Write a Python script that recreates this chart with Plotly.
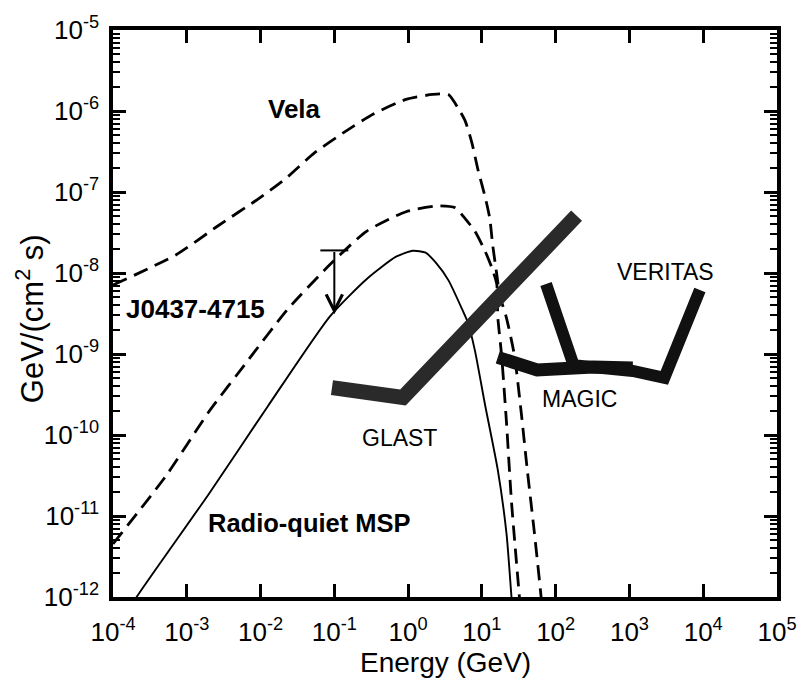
import numpy as np
import plotly.graph_objects as go

# ---------------- data ----------------
vela_E = [1e-4, 7.18e-4, 2.69e-3, 9.23e-3, 0.0212, 0.0533, 0.147, 0.338, 0.935, 2.15, 3.51,
          4.78, 5.93, 7.35, 8.85, 11.0, 12.8, 14.0, 15.9, 17.4, 21.6, 27.6, 34.3, 41.2, 51.2, 63.4, 65.0]
vela_F = [7.1e-9, 1.68e-8, 3.86e-8, 8.18e-8, 1.43e-7, 3.02e-7, 5.73e-7, 9.18e-7, 1.39e-6, 1.60e-6, 1.60e-6,
          1.08e-6, 7.55e-7, 3.99e-7, 1.88e-7, 8.89e-8, 4.70e-8, 2.22e-8, 9.64e-9, 5.38e-9, 2.76e-9, 9.6e-10,
          1.82e-10, 3.73e-11, 6.49e-12, 1.01e-12, 7.5e-13]

j0437_E = [1e-4, 5.27e-4, 1.98e-3, 6.79e-3, 0.0232, 0.0873, 0.273, 0.935, 2.58, 4.36, 5.93, 8.05,
           11.0, 13.6, 15.9, 16.4, 18.5, 21.6, 25.2, 32.2, 33.0]
j0437_F = [4.52e-12, 3.16e-11, 1.92e-10, 8.38e-10, 3.55e-9, 1.27e-8, 3.27e-8, 5.70e-8, 6.75e-8, 6.38e-8,
           4.70e-8, 3.27e-8, 1.88e-8, 1.17e-8, 7.31e-9, 2.92e-9, 9.6e-10, 1.38e-10, 1.49e-11, 1.01e-12, 7.5e-13]

msp_E = [1.9e-4, 2.09e-4, 1.98e-3, 0.01256, 0.0873, 0.273, 0.687, 1.16, 1.73, 2.36, 3.51, 5.41, 6.50,
         8.05, 11.0, 16.4, 21.6, 25.2, 26.0]
msp_F = [8.5e-13, 1.0e-12, 1.86e-11, 2.27e-10, 2.92e-9, 8.39e-9, 1.59e-8, 1.88e-8, 1.78e-8, 1.35e-8, 8.17e-9,
         3.55e-9, 2.40e-9, 1.10e-9, 2.40e-10, 3.73e-11, 5.97e-12, 1.0e-12, 7.5e-13]

glast_E = [0.0929, 0.851, 192.0]
glast_F = [3.85e-10, 2.91e-10, 5.1e-8]

magic_E = [16.4, 56.1, 324.0, 1109.0]
magic_F = [9.1e-10, 6.34e-10, 6.89e-10, 6.70e-10]

veritas_E = [74.0, 175.0, 1109.0, 2972.0, 9016.0]
veritas_F = [7.31e-9, 7.28e-10, 6.17e-10, 5.08e-10, 6.18e-9]

ul_E = 0.1
ul_top = 1.9e-8
ul_tip = 3.1e-9

x_tickvals = [1e-4, 1e-3, 1e-2, 1e-1, 1e0, 1e1, 1e2, 1e3, 1e4, 1e5]
x_ticktext = ["10<sup>-4</sup>", "10<sup>-3</sup>", "10<sup>-2</sup>", "10<sup>-1</sup>", "10<sup>0</sup>",
              "10<sup>1</sup>", "10<sup>2</sup>", "10<sup>3</sup>", "10<sup>4</sup>", "10<sup>5</sup>"]
y_tickvals = [1e-12, 1e-11, 1e-10, 1e-9, 1e-8, 1e-7, 1e-6, 1e-5]
y_ticktext = ["10<sup>-12</sup>", "10<sup>-11</sup>", "10<sup>-10</sup>", "10<sup>-9</sup>",
              "10<sup>-8</sup>", "10<sup>-7</sup>", "10<sup>-6</sup>", "10<sup>-5</sup>"]

# ---------------- figure ----------------
FONT = "Liberation Sans, Arial, Helvetica, sans-serif"
fig = go.Figure()

dash = "15px,8px"
fig.add_trace(go.Scatter(x=vela_E, y=vela_F, mode="lines",
                         line=dict(color="black", width=2.8, dash=dash, shape="spline", smoothing=0.6),
                         hoverinfo="skip"))
fig.add_trace(go.Scatter(x=j0437_E, y=j0437_F, mode="lines",
                         line=dict(color="black", width=2.8, dash=dash, shape="spline", smoothing=0.6),
                         hoverinfo="skip"))
fig.add_trace(go.Scatter(x=msp_E, y=msp_F, mode="lines",
                         line=dict(color="black", width=1.9, shape="spline", smoothing=0.6),
                         hoverinfo="skip"))

fig.add_trace(go.Scatter(x=glast_E, y=glast_F, mode="lines",
                         line=dict(color="#2a2a2a", width=15), hoverinfo="skip"))
fig.add_trace(go.Scatter(x=magic_E, y=magic_F, mode="lines",
                         line=dict(color="#111111", width=13), hoverinfo="skip"))
fig.add_trace(go.Scatter(x=veritas_E, y=veritas_F, mode="lines",
                         line=dict(color="#111111", width=12), hoverinfo="skip"))

# upper-limit cap
fig.add_trace(go.Scatter(x=[ul_E], y=[ul_top], mode="markers",
                         marker=dict(symbol="line-ew", size=20, line=dict(color="black", width=2)),
                         hoverinfo="skip"))

annotations = [
    dict(x=np.log10(ul_E), y=np.log10(ul_tip), ax=np.log10(ul_E), ay=np.log10(ul_top),
         xref="x", yref="y", axref="x", ayref="y", text="", showarrow=True,
         arrowhead=5, arrowsize=1.6, arrowwidth=2, arrowcolor="black", standoff=0, startstandoff=0),
    dict(x=-1.54, y=-5.977, xref="x", yref="y", text="<b>Vela</b>", showarrow=False,
         font=dict(family=FONT, size=26, color="black")),
    dict(x=-2.88, y=-8.450, xref="x", yref="y", text="<b>J0437-4715</b>", showarrow=False,
         font=dict(family=FONT, size=26, color="black")),
    dict(x=-1.33, y=-11.092, xref="x", yref="y", text="<b>Radio-quiet MSP</b>", showarrow=False,
         font=dict(family=FONT, size=25.5, color="black")),
    dict(x=-0.12, y=-10.042, xref="x", yref="y", text="GLAST", showarrow=False,
         font=dict(family=FONT, size=23, color="black")),
    dict(x=2.32, y=-9.560, xref="x", yref="y", text="MAGIC", showarrow=False,
         font=dict(family=FONT, size=23, color="black")),
    dict(x=3.487, y=-7.992, xref="x", yref="y", text="VERITAS", showarrow=False,
         font=dict(family=FONT, size=23, color="black")),
    dict(x=0.5, y=-0.115, xref="paper", yref="paper", text="Energy (GeV)", showarrow=False,
         xanchor="center", yanchor="middle", font=dict(family=FONT, size=28, color="black")),
    dict(x=-0.125, y=0.49, xref="paper", yref="paper", text="GeV/(cm<sup>2</sup> s)", showarrow=False,
         textangle=-90, xanchor="center", yanchor="middle", font=dict(family=FONT, size=31, color="black")),
]

y_minor = [m * 10.0 ** e for e in range(-12, -5) for m in range(2, 10)]

fig.update_layout(
    width=809, height=696,
    margin=dict(l=113, r=23, t=17, b=99),
    paper_bgcolor="white", plot_bgcolor="white",
    showlegend=False,
    font=dict(family=FONT, color="black"),
    annotations=annotations,
    xaxis=dict(type="log", range=[-4, 5], showgrid=False, zeroline=False,
               showline=True, linecolor="black", linewidth=3.5, mirror="allticks",
               ticks="inside", ticklen=13, tickwidth=2.5, tickcolor="black",
               tickmode="array", tickvals=x_tickvals, ticktext=x_ticktext,
               ticklabeloverflow="allow",
               tickfont=dict(family=FONT, size=26, color="black"), ticklabelstandoff=9),
    yaxis=dict(type="log", range=[-12, -5], showgrid=False, zeroline=False,
               showline=True, linecolor="black", linewidth=3.5, mirror="allticks",
               ticks="inside", ticklen=13, tickwidth=2.5, tickcolor="black",
               tickmode="array", tickvals=y_tickvals, ticktext=y_ticktext,
               ticklabeloverflow="allow",
               tickfont=dict(family=FONT, size=26, color="black"), ticklabelstandoff=5,
               minor=dict(ticks="inside", ticklen=7, tickwidth=2, tickcolor="black",
                          tickmode="array", tickvals=y_minor, showgrid=False)),
)

fig.write_html("out.html")
